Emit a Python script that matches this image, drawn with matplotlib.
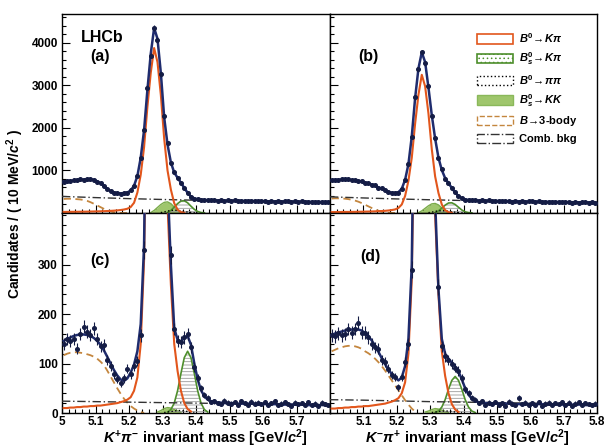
import numpy as np
import matplotlib
matplotlib.use('Agg')
import matplotlib.pyplot as plt
from matplotlib.patches import Patch
from matplotlib.ticker import MultipleLocator, FixedLocator, FuncFormatter

plt.rcParams['font.family'] = ['Liberation Sans', 'DejaVu Sans']
plt.rcParams['font.weight'] = 'bold'
plt.rcParams['mathtext.fontset'] = 'custom'
plt.rcParams['mathtext.rm'] = 'Liberation Sans:bold'
plt.rcParams['mathtext.it'] = 'Liberation Sans:italic:bold'
plt.rcParams['mathtext.bf'] = 'Liberation Sans:bold'
plt.rcParams['hatch.linewidth'] = 0.6

# ---------------- data (10 MeV bins, 5.0 - 5.8 GeV) ----------------
bin_low = 5.0
bin_width = 0.01
n_bins = 80
comb_mass = [5.0, 5.1, 5.2, 5.3, 5.4, 5.5, 5.6, 5.7, 5.8]

# panel (a)  K+ pi-, loose selection
data_a = [735, 752, 748, 770, 765, 790, 780, 800, 795, 776,
          740, 700, 630, 565, 515, 478, 466, 458, 472, 480,
          535, 625, 880, 1290, 1960, 2950, 3700, 4350, 4070, 3260,
          2270, 1650, 1180, 960, 815, 715, 580, 478, 370, 338,
          318, 315, 300, 310, 295, 305, 290, 300, 286, 296,
          284, 296, 280, 292, 278, 290, 276, 288, 272, 284,
          282, 270, 284, 266, 280, 262, 278, 272, 260, 274,
          258, 272, 256, 268, 254, 266, 262, 252, 264, 250]
total_a = [740, 748, 756, 764, 772, 780, 787, 792, 793, 780,
           745, 700, 635, 570, 515, 482, 466, 462, 466, 482,
           530, 640, 870, 1300, 1950, 2900, 3750, 4350, 4100, 3300,
           2250, 1610, 1190, 950, 830, 710, 590, 475, 385, 345,
           322, 310, 305, 302, 300, 298, 296, 294, 292, 290,
           289, 288, 286, 285, 284, 283, 282, 281, 280, 278,
           277, 276, 275, 274, 273, 271, 270, 269, 268, 267,
           266, 265, 264, 263, 262, 261, 260, 259, 258, 256]
orange_a = [25, 26, 27, 28, 29, 30, 31, 32, 34, 36,
            38, 40, 43, 46, 50, 55, 61, 70, 82, 100,
            140, 240, 480, 900, 1550, 2500, 3300, 3880, 3550, 2780,
            1750, 1000, 550, 230, 80, 20, 5]
threebody_a = [330, 335, 335, 330, 325, 318, 305, 285, 255, 218,
               178, 138, 98, 62, 36, 17, 6, 2, 0, 0]
comb_a = [390, 362, 338, 318, 300, 287, 275, 263, 252]
kk_a_start, kk_a = 26, [10, 60, 130, 200, 250, 262, 220, 140, 60, 15]
bs_a_start, bs_a = 31, [15, 60, 140, 220, 280, 290, 240, 160, 85, 35, 12, 3]
pipi_a_start, pipi_a = 29, [10, 25, 45, 60, 65, 60, 48, 35, 22, 12, 5, 2]

# panel (b)  K- pi+, loose selection
data_b = [765, 782, 772, 795, 788, 800, 770, 775, 745, 742,
          708, 700, 662, 648, 598, 580, 530, 505, 472, 462,
          482, 575, 770, 1160, 1790, 2720, 3380, 3780, 3520, 2980,
          2280, 1760, 1290, 1030, 810, 712, 585, 490, 395, 350,
          315, 312, 295, 303, 288, 298, 282, 294, 280, 290,
          276, 288, 272, 284, 270, 282, 266, 278, 262, 276,
          272, 262, 274, 258, 270, 255, 268, 262, 250, 264,
          248, 262, 246, 258, 244, 256, 252, 242, 255, 240]
total_b = [770, 775, 780, 785, 790, 785, 775, 765, 750, 735,
           715, 695, 670, 640, 605, 570, 535, 500, 475, 468,
           490, 570, 780, 1150, 1800, 2700, 3400, 3780, 3550, 2950,
           2300, 1750, 1300, 1010, 820, 700, 590, 480, 400, 345,
           318, 306, 300, 296, 293, 291, 289, 287, 285, 283,
           281, 280, 278, 277, 276, 274, 273, 272, 270, 269,
           268, 267, 265, 264, 263, 262, 261, 259, 258, 257,
           256, 255, 254, 253, 252, 251, 250, 249, 248, 247]
orange_b = [21, 22, 23, 24, 25, 25, 26, 27, 29, 30,
            32, 34, 36, 39, 42, 46, 51, 59, 69, 84,
            118, 200, 400, 760, 1300, 2100, 2780, 3250, 2980, 2340,
            1500, 860, 470, 200, 67, 17, 4]
threebody_b = [340, 345, 345, 342, 336, 326, 312, 292, 266, 233,
               195, 156, 118, 83, 54, 30, 14, 5, 1, 0]
comb_b = [380, 354, 331, 311, 294, 280, 268, 257, 246]
kk_b_start, kk_b = 26, [8, 50, 110, 170, 215, 225, 190, 120, 52, 14]
bs_b_start, bs_b = 31, [12, 50, 115, 185, 235, 240, 200, 135, 70, 28, 10, 3]
pipi_b_start, pipi_b = 29, [8, 20, 38, 50, 55, 50, 40, 28, 18, 10, 4, 2]

# panel (c)  K+ pi-, tight selection
data_c = [140, 150, 145, 150, 130, 160, 175, 165, 158, 172,
          150, 135, 138, 108, 95, 78, 68, 60, 70, 90,
          78, 95, 105, 157, 330, 900, 1900, 2700, 2700, 1950,
          950, 460, 320, 170, 145, 143, 153, 160, 133, 93,
          70, 50, 37, 30, 22, 24, 20, 18, 25, 21,
          19, 22, 17, 24, 20, 16, 23, 19, 21, 18,
          22, 17, 20, 24, 16, 19, 22, 18, 15, 21,
          18, 20, 16, 22, 17, 19, 15, 21, 18, 17]
total_c = [146, 150, 153, 156, 158, 159, 159, 158, 156, 152,
           146, 138, 127, 114, 100, 87, 76, 68, 65, 70,
           82, 98, 125, 180, 340, 850, 1850, 2700, 2700, 1950,
           950, 470, 300, 172, 148, 145, 152, 156, 138, 100,
           68, 46, 34, 27, 24, 22, 21, 21, 20, 20,
           20, 20, 19, 19, 19, 19, 19, 18, 18, 18,
           18, 18, 18, 18, 17, 17, 17, 17, 17, 17,
           17, 17, 17, 16, 16, 16, 16, 16, 16, 16]
orange_c = [10, 10, 11, 11, 12, 12, 13, 13, 14, 14,
            15, 15, 16, 17, 18, 19, 20, 22, 24, 27,
            32, 45, 72, 140, 310, 760, 1700, 2550, 2600, 1850,
            900, 420, 260, 140, 85, 45, 20, 8, 3]
threebody_c = [117, 120, 122, 123, 123, 122, 121, 119, 117, 114,
               110, 104, 97, 86, 74, 62, 50, 39, 29, 21,
               14, 9, 5, 2, 0]
comb_c = [24, 23, 22, 21, 20, 19, 18.5, 18, 17]
kk_c_start, kk_c = 28, [2, 5, 9, 11, 10, 7, 4, 2]
bs_c_start, bs_c = 31, [2, 7, 20, 45, 80, 112, 125, 112, 80, 45, 20, 7, 2]
pipi_c_start, pipi_c = 30, [1, 2, 3, 4, 5, 5, 4, 3, 2, 1]

# panel (d)  K- pi+, tight selection
data_d = [157, 155, 161, 157, 160, 170, 163, 170, 183, 163,
          163, 153, 140, 133, 130, 107, 103, 90, 77, 73,
          52, 73, 103, 140, 290, 850, 1750, 2450, 2450, 1800,
          880, 420, 255, 135, 115, 108, 100, 92, 85, 70,
          48, 40, 30, 27, 20, 24, 16, 21, 18, 22,
          17, 20, 15, 23, 19, 17, 30, 18, 21, 16,
          20, 17, 22, 15, 19, 21, 16, 20, 18, 22,
          17, 21, 15, 19, 22, 16, 20, 18, 17, 19]
total_d = [158, 161, 163, 165, 167, 168, 169, 170, 169, 167,
           162, 155, 147, 136, 124, 111, 99, 88, 79, 72,
           66, 72, 95, 150, 300, 800, 1750, 2450, 2450, 1800,
           880, 430, 250, 150, 120, 110, 102, 94, 84, 68,
           50, 37, 29, 25, 22, 21, 20, 20, 19, 19,
           19, 19, 19, 19, 18, 18, 18, 18, 18, 18,
           18, 18, 18, 18, 17, 17, 17, 17, 17, 17,
           17, 17, 17, 17, 17, 17, 16, 16, 16, 16]
orange_d = [9, 9, 10, 10, 11, 11, 12, 12, 13, 13,
            14, 14, 15, 16, 17, 18, 19, 21, 23, 26,
            30, 40, 62, 120, 270, 700, 1600, 2350, 2400, 1700,
            820, 400, 240, 125, 75, 40, 18, 7, 2]
threebody_d = [125, 128, 131, 133, 135, 136, 136, 135, 133, 130,
               125, 121, 116, 110, 103, 95, 86, 76, 66, 56,
               46, 36, 26, 17, 9, 3]
comb_d = [27, 26, 24.5, 23, 22, 21, 20, 19, 18]
kk_d_start, kk_d = 28, [2, 4, 7, 9, 8, 6, 3, 1]
bs_d_start, bs_d = 31, [1, 4, 12, 27, 48, 66, 74, 66, 48, 27, 12, 4, 1]
pipi_d_start, pipi_d = 30, [1, 2, 3, 4, 4, 4, 3, 2, 1, 1]

legend_labels = [r'$B^{0}\!\rightarrow\!K\pi$', r'$B^{0}_{s}\!\rightarrow\!K\pi$',
                 r'$B^{0}\!\rightarrow\!\pi\pi$', r'$B^{0}_{s}\!\rightarrow\!KK$',
                 r'$B\!\rightarrow\!$3-body', 'Comb. bkg']
panel_tags = ['(a)', '(b)', '(c)', '(d)']

# ---------------- styles ----------------
C_DATA = '#141c45'
C_TOT = '#1f2c6e'
C_ORANGE = '#e2561c'
C_3BODY = '#c4863e'
C_COMB = '#333333'
C_GREEN = '#4e8f2c'
C_KK = '#9fc66c'

centers = bin_low + bin_width * (np.arange(n_bins) + 0.5)

W, H = 607, 448
fig = plt.figure(figsize=(W / 100, H / 100), dpi=100)


def rect(x0, y0, x1, y1):
    return [x0 / W, 1 - y1 / H, (x1 - x0) / W, (y1 - y0) / H]


axa = fig.add_axes(rect(62, 14, 330, 213))
axb = fig.add_axes(rect(330, 14, 597, 213))
axc = fig.add_axes(rect(62, 213, 330, 413))
axd = fig.add_axes(rect(330, 213, 597, 413))


def seg(start, vals):
    return centers[start:start + len(vals)], np.asarray(vals, float)


def draw(ax, data, total, orange, tb, comb, kk, bs, pipi):
    xk, yk = seg(*kk)
    ax.fill_between(xk, 0, yk, color=C_KK, lw=0, zorder=2)
    ax.plot(xk, yk, color='#7aab4a', lw=1.0, zorder=2.1)
    xb, yb = seg(*bs)
    ax.fill_between(xb, 0, yb, facecolor='none', edgecolor='#9a9a9a',
                    hatch='-----', lw=0, zorder=2.2)
    ax.plot(xb, yb, color=C_GREEN, lw=1.2, zorder=2.3)
    xp, yp = seg(*pipi)
    ax.plot(xp, yp, color='k', ls=':', lw=1.0, zorder=2.4)
    xt, yt = seg(0, tb)
    ax.plot(xt, yt, color=C_3BODY, ls=(0, (4, 2.5)), lw=1.3, zorder=2.5)
    ax.plot(comb_mass, comb, color=C_COMB, ls=(0, (6, 2, 1, 2)), lw=1.0, zorder=2.6)
    xo, yo = seg(0, orange)
    ax.plot(xo, yo, color=C_ORANGE, lw=1.5, zorder=3)
    ax.plot(centers, total, color=C_TOT, lw=1.8, zorder=4)
    d = np.asarray(data, float)
    ax.errorbar(centers, d, yerr=np.sqrt(d), xerr=bin_width / 2, fmt='o', ms=2.6,
                color=C_DATA, mfc=C_DATA, mec=C_DATA, elinewidth=0.8, capsize=0, zorder=5)


draw(axa, data_a, total_a, orange_a, threebody_a, comb_a,
     (kk_a_start, kk_a), (bs_a_start, bs_a), (pipi_a_start, pipi_a))
draw(axb, data_b, total_b, orange_b, threebody_b, comb_b,
     (kk_b_start, kk_b), (bs_b_start, bs_b), (pipi_b_start, pipi_b))
draw(axc, data_c, total_c, orange_c, threebody_c, comb_c,
     (kk_c_start, kk_c), (bs_c_start, bs_c), (pipi_c_start, pipi_c))
draw(axd, data_d, total_d, orange_d, threebody_d, comb_d,
     (kk_d_start, kk_d), (bs_d_start, bs_d), (pipi_d_start, pipi_d))


def xfmt_left(v, pos):
    if v > 5.75:
        return ''
    return '5' if abs(v - 5.0) < 1e-6 else '%.1f' % v


def xfmt_right(v, pos):
    if v < 5.05:
        return ''
    return '%.1f' % v


for ax in (axa, axb, axc, axd):
    ax.set_xlim(5.0, 5.8)
    ax.xaxis.set_major_locator(MultipleLocator(0.1))
    ax.xaxis.set_minor_locator(MultipleLocator(0.02))
    ax.tick_params(which='both', direction='in', top=False, right=False,
                   width=0.8, labelsize=8.5)
    ax.tick_params(axis='y', pad=3)
    ax.tick_params(axis='x', pad=2)
    ax.tick_params(which='major', length=6)
    ax.tick_params(which='minor', length=3)
    for s in ax.spines.values():
        s.set_linewidth(1.0)

for ax in (axa, axb):
    ax.set_ylim(0, 4680)
    ax.yaxis.set_major_locator(FixedLocator([1000, 2000, 3000, 4000]))
    ax.yaxis.set_minor_locator(MultipleLocator(200))
    ax.tick_params(labelbottom=False)
for ax in (axc, axd):
    ax.set_ylim(0, 405)
    ax.yaxis.set_major_locator(FixedLocator([0, 100, 200, 300]))
    ax.yaxis.set_minor_locator(MultipleLocator(20))
for ax in (axb, axd):
    ax.tick_params(labelleft=False)
axc.xaxis.set_major_formatter(FuncFormatter(xfmt_left))
axd.xaxis.set_major_formatter(FuncFormatter(xfmt_right))


def ftext(x, y, s, **kw):
    fig.text(x / W, 1 - y / H, s, **kw)


ftext(102, 37, 'LHCb', ha='center', va='center', fontsize=11.5, fontweight='bold')
ftext(100, 57, panel_tags[0], ha='center', va='center', fontsize=11.5, fontweight='bold')
ftext(368, 57, panel_tags[1], ha='center', va='center', fontsize=11.5, fontweight='bold')
ftext(100, 260, panel_tags[2], ha='center', va='center', fontsize=11.5, fontweight='bold')
ftext(370, 257, panel_tags[3], ha='center', va='center', fontsize=11.5, fontweight='bold')
ftext(15, 214, r'Candidates / ( 10 MeV/$c^{2}$ )', rotation=90, ha='center',
      va='center', fontsize=10, fontweight='bold')
ftext(205, 438, r'$K^{+}\pi^{-}$ invariant mass [GeV/$c^{2}$]', ha='center',
      va='center', fontsize=10.5, fontweight='bold')
ftext(467, 438, r'$K^{-}\pi^{+}$ invariant mass [GeV/$c^{2}$]', ha='center',
      va='center', fontsize=10.5, fontweight='bold')

handles = [Patch(facecolor='white', edgecolor=C_ORANGE, lw=1.2),
           Patch(facecolor='white', edgecolor=C_GREEN, hatch='....', lw=1.2),
           Patch(facecolor='white', edgecolor='k', ls=':', lw=1.0),
           Patch(facecolor=C_KK, edgecolor='#8ab85a', lw=1.0),
           Patch(facecolor='white', edgecolor=C_3BODY, ls='--', lw=1.0),
           Patch(facecolor='white', edgecolor=C_COMB, ls='-.', lw=1.0)]
axb.legend(handles, legend_labels, loc='upper left',
           bbox_to_anchor=((477 - 330) / 267, (213 - 31) / 199),
           frameon=False, prop={'weight': 'bold', 'size': 8},
           handlelength=3.2, handleheight=0.9, labelspacing=0.5,
           handletextpad=0.6, borderpad=0, borderaxespad=0)

fig.savefig('out.png', dpi=100)
